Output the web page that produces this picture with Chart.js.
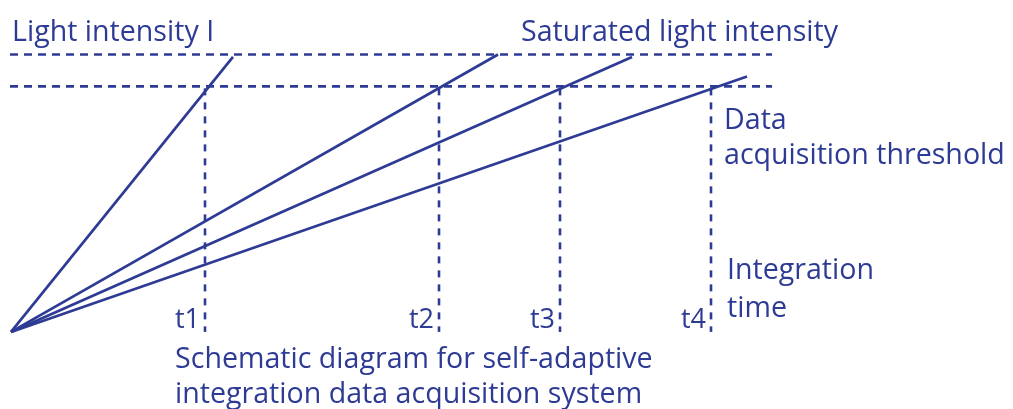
<!DOCTYPE html>
<html>
<head>
<meta charset="utf-8">
<script src="https://cdn.jsdelivr.net/npm/chart.js@4/dist/chart.umd.min.js"></script>
<style>
  html, body { margin: 0; padding: 0; background: #ffffff; }
  #wrap { width: 1013px; height: 409px; position: relative; }
</style>
</head>
<body>
<div id="wrap"><canvas id="c" width="1013" height="409"></canvas></div>
<script>
// ---- data (x = integration time, y = accumulated signal) ----
const timeLabels = ["t1", "t2", "t3", "t4"];
const thresholdTimes = [194, 428, 549, 700];      // t1..t4
const rayEndTimes = [222, 487, 621, 736];          // where each light-intensity ray stops
const rayEndValues = [112, 113, 112, 104];
const thresholdLevel = 100;                        // data acquisition threshold
const saturationLevel = 113;                       // saturated light intensity
const levelLineEnd = 761;                          // extent of the dashed horizontal levels
const levelLineStart = -1;

const COLOR = "#2e3b94";
const FONT = "'Open Sans', 'Noto Sans', sans-serif";

const datasets = [];
// rays from the origin
rayEndTimes.forEach((t, i) => {
  datasets.push({
    data: [{x: 0, y: 0}, {x: t, y: rayEndValues[i]}],
    borderColor: COLOR, borderWidth: 2.7, pointRadius: 0, showLine: true, fill: false
  });
});
// horizontal dashed levels
[saturationLevel, thresholdLevel].forEach(v => {
  datasets.push({
    data: [{x: levelLineStart, y: v}, {x: levelLineEnd, y: v}],
    borderColor: COLOR, borderWidth: 2.6, borderDash: [8, 6], pointRadius: 0, showLine: true, fill: false
  });
});
// vertical dashed integration-time markers
thresholdTimes.forEach(t => {
  datasets.push({
    data: [{x: t, y: thresholdLevel - 0.8}, {x: t, y: 0}],
    borderColor: COLOR, borderWidth: 2.6, borderDash: [7, 7], pointRadius: 0, showLine: true, fill: false
  });
});

// text labels, anchored in data coordinates
const textLabels = [
  {text: "Light intensity I", x: 1, y: 118.5, align: "left"},
  {text: "Saturated light intensity", x: 510, y: 118.5, align: "left"},
  {text: "Data", x: 713, y: 82.5, align: "left"},
  {text: "acquisition threshold", x: 713, y: 68.3, align: "left"},
  {text: "Integration", x: 716, y: 21.6, align: "left"},
  {text: "time", x: 716, y: 6.1, align: "left"},
  {text: "Schematic diagram for self-adaptive", x: 164, y: -14.7, align: "left"},
  {text: "integration data acquisition system", x: 164, y: -29.1, align: "left"}
];

const labelPlugin = {
  id: "labels",
  afterDatasetsDraw(chart) {
    const {ctx, scales: {x, y}} = chart;
    ctx.save();
    ctx.fillStyle = COLOR;
    ctx.textBaseline = "alphabetic";
    ctx.font = "28.6px " + FONT;
    textLabels.forEach(l => {
      ctx.textAlign = l.align;
      ctx.fillText(l.text, x.getPixelForValue(l.x), y.getPixelForValue(l.y));
    });
    ctx.font = "27px " + FONT;
    ctx.textAlign = "right";
    timeLabels.forEach((lab, i) => {
      ctx.fillText(lab, x.getPixelForValue(thresholdTimes[i]) - 5, y.getPixelForValue(1.5));
    });
    ctx.restore();
  }
};

new Chart(document.getElementById("c"), {
  type: "scatter",
  data: {datasets},
  options: {
    responsive: false,
    animation: false,
    layout: {padding: 0},
    plugins: {legend: {display: false}, tooltip: {enabled: false}},
    scales: {
      x: {type: "linear", display: false, min: -11, max: 1002},
      y: {type: "linear", display: false, min: -31.4, max: 135.2}
    }
  },
  plugins: [labelPlugin]
});
</script>
</body>
</html>
